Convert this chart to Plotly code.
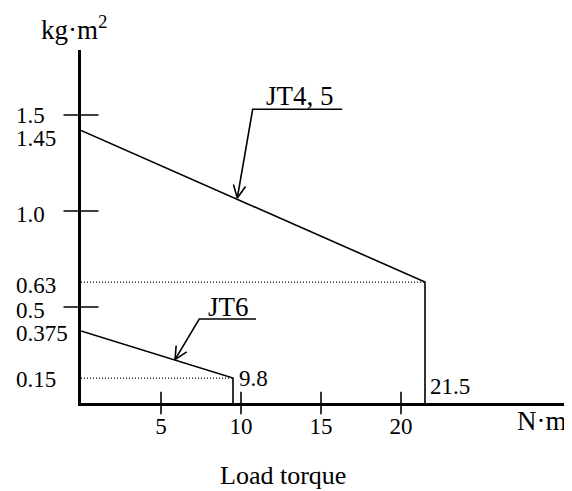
import numpy as np
import plotly.graph_objects as go

# ---------------- data ----------------
jt45_torque = [0, 21.5, 21.5]
jt45_inertia = [1.42, 0.63, 0]
jt6_torque = [0, 9.5, 9.5]
jt6_inertia = [0.375, 0.13, 0]

ytick_text = ["1.5", "1.45", "1.0", "0.63", "0.5", "0.375", "0.15"]
ytick_pos = [1.5, 1.38, 0.98, 0.61, 0.48, 0.36, 0.125]
ymajor_ticks = [0.5, 1.0, 1.5]
xtick_vals = [5, 10, 15, 20]
xtick_text = ["5", "10", "15", "20"]

jt45_label = "JT4, 5"
jt6_label = "JT6"
jt45_end_label = "21.5"
jt6_end_label = "9.8"

# ---------------- layout constants ----------------
OFF = 8  # page body margin offset
W, H = 572 - OFF, 491 - OFF
ML, MR, MT, MB = 81 - OFF, 2, 50 - OFF, 88
PW, PH = W - ML - MR, H - MT - MB
PX_PER_X = 16.0
PX_PER_Y = 192.0
XR = [0, PW / PX_PER_X]
YR = [0, PH / PX_PER_Y]
FONT = "Liberation Serif"


def px_paper_x(px):
    return (px - OFF - ML) / PW


def px_paper_y(py):
    return (H - MB - (py - OFF)) / PH


def arrow_head(tip, start, length=14, half_angle=26):
    # V-shaped open arrow head, computed in pixel space
    tx, ty = tip[0] * PX_PER_X, tip[1] * PX_PER_Y
    sx, sy = start[0] * PX_PER_X, start[1] * PX_PER_Y
    ang = np.arctan2(sy - ty, sx - tx)
    xs, ys = [], []
    for s in (1, -1):
        a = ang + s * np.radians(half_angle)
        xs.append((tx + length * np.cos(a)) / PX_PER_X)
        ys.append((ty + length * np.sin(a)) / PX_PER_Y)
    return [xs[0], tip[0], xs[1]], [ys[0], tip[1], ys[1]]


fig = go.Figure()
line_style = dict(color="black", width=1.6)

# main series
fig.add_trace(go.Scatter(x=jt45_torque, y=jt45_inertia, mode="lines",
                         line=line_style, name=jt45_label, hoverinfo="skip"))
fig.add_trace(go.Scatter(x=jt6_torque, y=jt6_inertia, mode="lines",
                         line=line_style, name=jt6_label, hoverinfo="skip"))

# dotted guides
dot = dict(color="black", width=1.3, dash="1px,2px")
fig.add_trace(go.Scatter(x=[0, jt45_torque[1]], y=[jt45_inertia[1]] * 2, mode="lines",
                         line=dot, hoverinfo="skip"))
fig.add_trace(go.Scatter(x=[0, jt6_torque[1]], y=[jt6_inertia[1]] * 2, mode="lines",
                         line=dot, hoverinfo="skip"))

# tick marks crossing the axes
fig.add_trace(go.Scatter(x=[0] * len(ymajor_ticks), y=ymajor_ticks, mode="markers",
                         marker=dict(symbol="line-ew", size=25,
                                     line=dict(color="black", width=1.6)),
                         cliponaxis=False, hoverinfo="skip"))
fig.add_trace(go.Scatter(x=xtick_vals, y=[0] * len(xtick_vals), mode="markers",
                         marker=dict(symbol="line-ns", size=16,
                                     line=dict(color="black", width=1.6)),
                         cliponaxis=False, hoverinfo="skip"))

# leaders with labels
leaders = [
    # (tip, leader start, underline end, label, label centre)
    ((9.77, 1.068), (10.73, 1.53), 16.33, jt45_label, (13.66, 1.60)),
    ((5.875, 0.226), (7.39, 0.4375), 10.94, jt6_label, (9.2, 0.50)),
]
annotations = []
for tip, start, uend, label, lpos in leaders:
    fig.add_trace(go.Scatter(x=[uend, start[0], tip[0]], y=[start[1], start[1], tip[1]],
                             mode="lines", line=dict(color="black", width=1.6),
                             cliponaxis=False, hoverinfo="skip"))
    hx, hy = arrow_head(tip, start)
    fig.add_trace(go.Scatter(x=hx, y=hy, mode="lines",
                             line=dict(color="black", width=1.6),
                             cliponaxis=False, hoverinfo="skip"))
    annotations.append(dict(x=lpos[0], y=lpos[1], xref="x", yref="y", text=label,
                            showarrow=False, xanchor="center", yanchor="middle",
                            font=dict(family=FONT, size=27, color="black")))

# end labels
annotations.append(dict(x=jt6_torque[1], y=jt6_inertia[1], xref="x", yref="y",
                        text=jt6_end_label, showarrow=False, xanchor="left",
                        yanchor="middle", xshift=4,
                        font=dict(family=FONT, size=23, color="black")))
annotations.append(dict(x=jt45_torque[1], y=0.085, xref="x", yref="y",
                        text=jt45_end_label, showarrow=False, xanchor="left",
                        yanchor="middle", xshift=3,
                        font=dict(family=FONT, size=23, color="black")))

# y tick labels (left aligned)
for t, p in zip(ytick_text, ytick_pos):
    annotations.append(dict(x=px_paper_x(14), y=p, xref="paper", yref="y", text=t,
                            showarrow=False, xanchor="left", yanchor="middle",
                            font=dict(family=FONT, size=23, color="black")))

# axis titles
annotations.append(dict(x=px_paper_x(74), y=px_paper_y(28), xref="paper", yref="paper",
                        text="kg·m<sup>2</sup>", showarrow=False, xanchor="center",
                        yanchor="middle", font=dict(family=FONT, size=27, color="black")))
annotations.append(dict(x=px_paper_x(569), y=px_paper_y(421), xref="paper", yref="paper",
                        text="N·m", showarrow=False, xanchor="right",
                        yanchor="middle", font=dict(family=FONT, size=27, color="black")))
annotations.append(dict(x=px_paper_x(283), y=px_paper_y(475), xref="paper", yref="paper",
                        text="Load torque", showarrow=False, xanchor="center",
                        yanchor="middle", font=dict(family=FONT, size=26, color="black")))

fig.update_layout(
    width=W, height=H,
    margin=dict(l=ML, r=MR, t=MT, b=MB),
    paper_bgcolor="white", plot_bgcolor="white",
    showlegend=False,
    annotations=annotations,
    xaxis=dict(range=XR, showgrid=False, zeroline=False, showline=True,
               linecolor="black", linewidth=2.5, ticks="",
               tickmode="array", tickvals=xtick_vals, ticktext=xtick_text,
               ticklabelstandoff=1,
               tickfont=dict(family=FONT, size=23, color="black")),
    yaxis=dict(range=YR, showgrid=False, zeroline=False, showline=True,
               linecolor="black", linewidth=2.5, ticks="", showticklabels=False),
)

fig.write_html("out.html")
